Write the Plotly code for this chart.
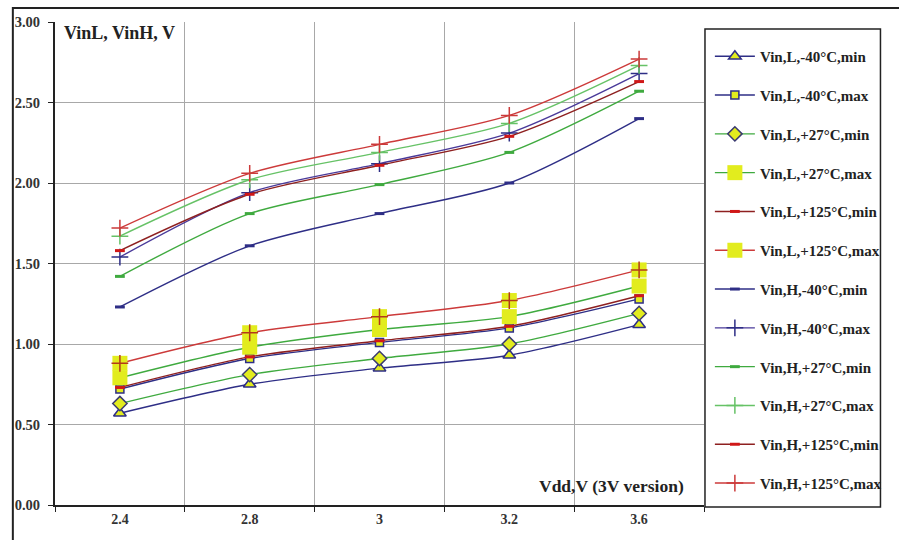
import plotly.graph_objects as go

vdd = ["2.4", "2.8", "3", "3.2", "3.6"]
y_ticks = [0.0, 0.5, 1.0, 1.5, 2.0, 2.5, 3.0]

vinL_m40_min = [0.57, 0.75, 0.85, 0.93, 1.12]
vinL_m40_max = [0.72, 0.91, 1.01, 1.10, 1.28]
vinL_p27_min = [0.63, 0.81, 0.91, 1.00, 1.19]
vinL_p27_max = [0.79, 0.98, 1.09, 1.17, 1.36]
vinL_p125_min = [0.73, 0.92, 1.02, 1.11, 1.30]
vinL_p125_max = [0.88, 1.07, 1.17, 1.27, 1.46]

vinH_m40_min = [1.23, 1.61, 1.81, 2.00, 2.40]
vinH_m40_max = [1.54, 1.94, 2.12, 2.31, 2.68]
vinH_p27_min = [1.42, 1.81, 1.99, 2.19, 2.57]
vinH_p27_max = [1.67, 2.02, 2.19, 2.37, 2.73]
vinH_p125_min = [1.58, 1.93, 2.11, 2.29, 2.63]
vinH_p125_max = [1.72, 2.06, 2.24, 2.42, 2.77]

NAVY = "#2E2E86"
GREEN = "#3FAA3F"
LGREEN = "#66C266"
DRED = "#8E2020"
RED = "#CC3A3A"
YEL = "#E2EC1E"

fig = go.Figure()

def add(name, y, color, marker, group, showlegend=True, mode="lines+markers"):
    fig.add_trace(go.Scatter(
        x=vdd, y=y, name=name, mode=mode, legendgroup=group, showlegend=showlegend,
        line=dict(color=color, width=1.4, shape="spline", smoothing=0.8),
        marker=marker,
    ))

add("Vin,L,-40°C,min", vinL_m40_min, NAVY,
    dict(symbol="triangle-up", size=11, color=YEL, line=dict(color=NAVY, width=1.5)), "g1")
add("Vin,L,-40°C,max", vinL_m40_max, NAVY,
    dict(symbol="square", size=8, color=YEL, line=dict(color=NAVY, width=1.5)), "g2")
add("Vin,L,+27°C,min", vinL_p27_min, GREEN,
    dict(symbol="diamond", size=11, color=YEL, line=dict(color="#3A3A70", width=1.5)), "g3")
add("Vin,L,+27°C,max", vinL_p27_max, GREEN,
    dict(symbol="square", size=15, color=YEL, line=dict(width=0)), "g4")
add("Vin,L,+125°C,min", vinL_p125_min, DRED,
    dict(symbol="line-ew", size=7, line=dict(color="#D01818", width=3)), "g5")
add("Vin,L,+125°C,max", vinL_p125_max, RED,
    dict(symbol="square", size=15, color=YEL, line=dict(width=0)), "g6")
fig.add_trace(go.Scatter(
    x=vdd, y=vinL_p125_max, mode="markers", legendgroup="g6", showlegend=False,
    marker=dict(symbol="cross-thin", size=12, line=dict(color="#B23A1A", width=1.5)),
    hoverinfo="skip"))

add("Vin,H,-40°C,min", vinH_m40_min, NAVY,
    dict(symbol="line-ew", size=7, line=dict(color=NAVY, width=3)), "g7")
add("Vin,H,-40°C,max", vinH_m40_max, "#4A3A9A",
    dict(symbol="cross-thin", size=12, line=dict(color=NAVY, width=1.5)), "g8")
add("Vin,H,+27°C,min", vinH_p27_min, GREEN,
    dict(symbol="line-ew", size=7, line=dict(color=GREEN, width=3)), "g9")
add("Vin,H,+27°C,max", vinH_p27_max, LGREEN,
    dict(symbol="cross-thin", size=12, line=dict(color=LGREEN, width=1.5)), "g10")
add("Vin,H,+125°C,min", vinH_p125_min, DRED,
    dict(symbol="line-ew", size=7, line=dict(color="#D01818", width=3)), "g11")
add("Vin,H,+125°C,max", vinH_p125_max, RED,
    dict(symbol="cross-thin", size=12, line=dict(color=RED, width=1.5)), "g12")

SERIF = "Liberation Serif"
L, R, T, B = 55, 182, 22, 35
PW, PH = 899 - L - R, 540 - T - B

def px(x):
    return (x - L) / PW

def py(y):
    return (540 - B - y) / PH

fig.update_layout(
    width=899, height=540,
    margin=dict(l=L, r=R, t=T, b=B),
    paper_bgcolor="white", plot_bgcolor="white",
    font=dict(family=SERIF, size=14, color="#222"),
    showlegend=True,
    legend=dict(
        x=px(723), xanchor="left", y=py(40), yanchor="top",
        borderwidth=0, bgcolor="rgba(0,0,0,0)",
        font=dict(family=SERIF, size=15, color="#222", weight="bold"),
        tracegroupgap=16.3, itemwidth=40, traceorder="grouped",
        entrywidth=165,
    ),
    xaxis=dict(
        type="category", tickson="boundaries", ticks="outside", ticklen=5,
        tickcolor="#222", showgrid=True, gridcolor="#A8A8A8", gridwidth=1,
        showline=True, linecolor="#222", linewidth=2, range=[-0.5, 4.5],
        tickfont=dict(family=SERIF, size=14, color="#333", weight="bold"),
    ),
    yaxis=dict(
        range=[0, 3], tickvals=y_ticks, tickformat=".2f", ticks="outside", ticklen=5,
        tickcolor="#222", showgrid=True, gridcolor="#A8A8A8", gridwidth=1,
        showline=True, linecolor="#222", linewidth=2, zeroline=False,
        ticklabelstandoff=5,
        tickfont=dict(family=SERIF, size=14.5, color="#333", weight="bold"),
    ),
    annotations=[
        dict(text="<b>VinL, VinH, V</b>", xref="paper", yref="paper", x=px(62), y=py(21),
             xanchor="left", yanchor="top", showarrow=False,
             font=dict(family=SERIF, size=18, color="#222")),
        dict(text="<b>Vdd,V (3V version)</b>", xref="paper", yref="paper", x=px(699), y=py(486),
             xanchor="right", yanchor="middle", showarrow=False,
             font=dict(family=SERIF, size=17.5, color="#222")),
    ],
    shapes=[
        dict(type="rect", xref="paper", yref="paper", x0=px(12), x1=px(1000), y0=py(600), y1=py(8),
             line=dict(color="#222", width=2), fillcolor="rgba(0,0,0,0)", layer="below"),
        dict(type="rect", xref="paper", yref="paper", x0=px(718), x1=px(897), y0=py(507), y1=py(29),
             line=dict(color="#222", width=1.5), fillcolor="white", layer="below"),
    ],
)

fig.write_html("out.html",
               config={"displayModeBar": False},
               post_script="document.body.style.margin='0';document.body.style.overflow='hidden';")
